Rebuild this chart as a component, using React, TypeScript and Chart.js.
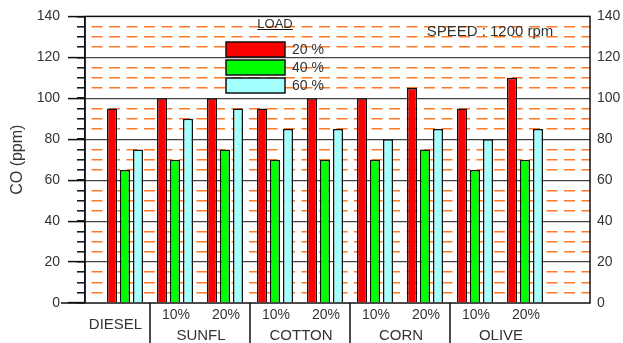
import { useEffect, useRef } from 'react';
import { Chart, registerables } from 'chart.js';

Chart.register(...registerables);

const FONT = "'Liberation Sans', Arial, Helvetica, sans-serif";

// Fuel groups along the bottom, and the blend label under each bar group
const fuels = ['DIESEL', 'SUNFL', 'COTTON', 'CORN', 'OLIVE'];
const blendLabels = ['', '10%', '20%', '10%', '20%', '10%', '20%', '10%', '20%'];
const blendFuel = [0, 1, 1, 2, 2, 3, 3, 4, 4];

// Engine load series (CO in ppm)
const loadLabels = ['20 %', '40 %', '60 %'];
const co20 = [95, 100, 100, 95, 100, 100, 105, 95, 110];
const co40 = [65, 70, 75, 70, 70, 70, 75, 65, 70];
const co60 = [75, 90, 95, 85, 85, 80, 85, 80, 85];
const loadColors = ['#ff0000', '#00ff00', '#a4ffff'];

const yMin = 0;
const yMax = 140;
const yMajorStep = 20;
const yMinorStep = 5;

const speedText = 'SPEED : 1200 rpm';
const legendTitle = 'LOAD';
const yTitle = 'CO (ppm)';

const TEXT = '#333';
const INK = '#111';

const decorPlugin = {
  id: 'coDecor',
  afterDraw(chart: any) {
    const { ctx, chartArea: a, scales } = chart;
    const xs = scales.x;
    ctx.save();

    // plot frame
    ctx.strokeStyle = INK;
    ctx.lineWidth = 1.5;
    ctx.strokeRect(a.left, a.top, a.right - a.left, a.bottom - a.top);

    // table under the plot
    ctx.beginPath();
    ctx.moveTo(61, a.bottom);
    ctx.lineTo(a.left, a.bottom);
    ctx.stroke();

    const h = chart.height;
    ctx.lineWidth = 1.5;
    for (let i = 1; i < blendFuel.length; i++) {
      if (blendFuel[i] !== blendFuel[i - 1]) {
        const x = Math.round(xs.getPixelForValue(i - 0.5));
        ctx.beginPath();
        ctx.moveTo(x, a.bottom);
        ctx.lineTo(x, h);
        ctx.stroke();
      }
    }

    ctx.fillStyle = TEXT;
    ctx.textAlign = 'center';
    ctx.textBaseline = 'middle';
    ctx.font = `14px ${FONT}`;
    blendLabels.forEach((lab, i) => {
      if (lab) ctx.fillText(lab, xs.getPixelForValue(i) + 1, a.bottom + 12);
    });

    ctx.font = `15px ${FONT}`;
    fuels.forEach((name, f) => {
      const idx = blendFuel.map((g, i) => (g === f ? i : -1)).filter((i) => i >= 0);
      if (idx.length === 1) {
        const right = xs.getPixelForValue(idx[0] + 0.5);
        ctx.fillText(name, (a.left + right) / 2 - 2, a.bottom + 22);
      } else {
        const cx = (xs.getPixelForValue(idx[0]) + xs.getPixelForValue(idx[idx.length - 1])) / 2;
        ctx.fillText(name, cx + 1, a.bottom + 33);
      }
    });

    // load legend
    const lx = 226;
    const ly = 42;
    const bw = 59;
    const bh = 15;
    const gap = 18;
    ctx.font = `13px ${FONT}`;
    ctx.textAlign = 'center';
    ctx.fillText(legendTitle, 275, 24);
    const tw = ctx.measureText(legendTitle).width;
    ctx.lineWidth = 1.2;
    ctx.strokeStyle = INK;
    ctx.beginPath();
    ctx.moveTo(275 - tw / 2, 29.5);
    ctx.lineTo(275 + tw / 2, 29.5);
    ctx.stroke();

    ctx.font = `14px ${FONT}`;
    ctx.textAlign = 'left';
    chart.data.datasets.forEach((ds: any, i: number) => {
      const y = ly + i * gap;
      ctx.fillStyle = ds.backgroundColor;
      ctx.fillRect(lx, y, bw, bh);
      ctx.lineWidth = 1.5;
      ctx.strokeStyle = INK;
      ctx.strokeRect(lx, y, bw, bh);
      ctx.fillStyle = TEXT;
      ctx.fillText(ds.label, lx + bw + 7, y + bh / 2 + 1);
    });

    // operating condition note
    ctx.font = `15px ${FONT}`;
    ctx.textAlign = 'center';
    ctx.fillText(speedText, 490, 32);

    ctx.restore();
  },
};

export default function App() {
  const ref = useRef<HTMLCanvasElement | null>(null);

  useEffect(() => {
    if (!ref.current) return;
    const series = [co20, co40, co60];
    const chart = new Chart(ref.current, {
      type: 'bar',
      data: {
        datasets: series.map((vals, s) => ({
          label: loadLabels[s],
          data: vals.map((v, i) => ({ x: i, y: v })),
          backgroundColor: loadColors[s],
          borderColor: INK,
          borderWidth: 1.5,
          categoryPercentage: 0.78,
          barPercentage: 0.77,
        })),
      },
      options: {
        responsive: false,
        animation: false,
        devicePixelRatio: 1,
        layout: { padding: { top: 16, left: 0, right: 0, bottom: 0 } },
        plugins: {
          legend: { display: false },
          tooltip: { enabled: false },
        },
        scales: {
          x: {
            type: 'linear',
            offset: false,
            min: -0.8,
            max: 9.3,
            afterBuildTicks: (s: any) => {
              s.ticks = blendLabels.map((_, i) => ({ value: i }));
            },
            ticks: { display: false },
            grid: { display: false, offset: false },
            border: { display: false },
            afterFit: (s: any) => {
              s.height = 40;
            },
          },
          yMinor: {
            position: 'left',
            weight: 0,
            min: yMin,
            max: yMax,
            ticks: { display: false, stepSize: yMinorStep },
            grid: {
              color: (c: any) =>
                c.tick && c.tick.value % yMajorStep !== 0 ? '#ff7a26' : 'rgba(0,0,0,0)',
              lineWidth: 1.6,
              tickLength: 8,
              tickColor: INK,
              tickWidth: 1.5,
            },
            border: { display: false, dash: [11, 6.5], dashOffset: 11 },
            afterFit: (s: any) => {
              s.width = 0;
            },
          },
          y: {
            position: 'left',
            weight: 1,
            min: yMin,
            max: yMax,
            ticks: {
              stepSize: yMajorStep,
              padding: 8,
              color: TEXT,
              font: { size: 14, family: FONT },
            },
            grid: {
              color: (c: any) =>
                c.tick && c.tick.value > yMin && c.tick.value < yMax ? '#444' : 'rgba(0,0,0,0)',
              lineWidth: 1.2,
              tickLength: 17,
              tickColor: INK,
              tickWidth: 1.5,
            },
            border: { display: true, color: INK, width: 1.5 },
            title: {
              display: true,
              text: yTitle,
              color: TEXT,
              font: { size: 16, family: FONT },
              padding: { top: 8, bottom: 0 },
            },
            afterFit: (s: any) => {
              s.width = 85;
            },
          },
          yR: {
            position: 'right',
            min: yMin,
            max: yMax,
            ticks: {
              stepSize: yMajorStep,
              padding: 7,
              color: TEXT,
              font: { size: 14, family: FONT },
            },
            grid: { drawOnChartArea: false, drawTicks: false },
            border: { display: false },
            afterFit: (s: any) => {
              s.width = 33;
            },
          },
        },
      } as any,
      plugins: [decorPlugin],
    });
    return () => chart.destroy();
  }, []);

  return (
    <div style={{ position: 'absolute', left: 0, top: 0, width: 623, height: 343, background: '#fff' }}>
      <canvas ref={ref} width={623} height={343} style={{ display: 'block' }} />
    </div>
  );
}
